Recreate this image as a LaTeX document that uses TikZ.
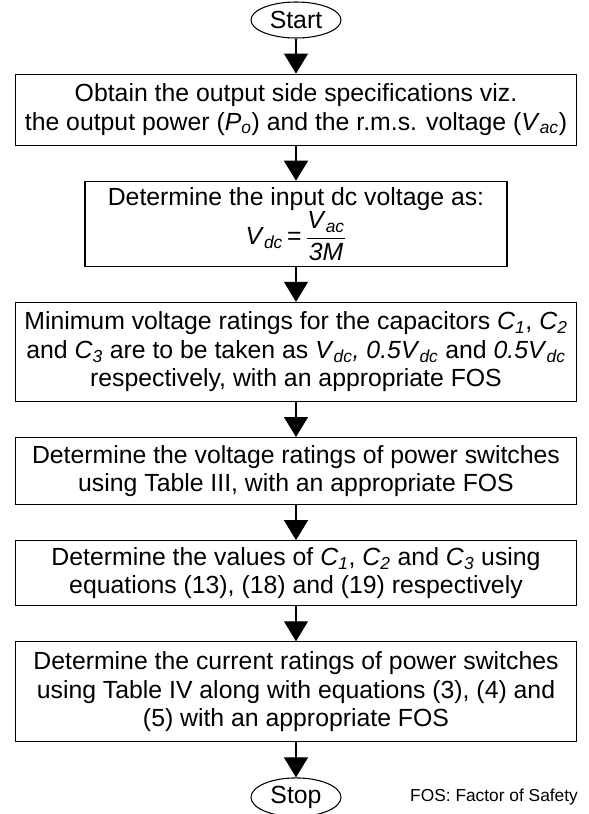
\documentclass[tikz,border=0pt]{standalone}
\usepackage{amsmath}
\usepackage{fontspec}
\setmainfont{Liberation Sans}
\usetikzlibrary{arrows.meta,positioning,shapes.geometric}
\newcommand{\vsym}[2]{\textit{#1}\textsubscript{\textit{#2}}}

\begin{document}
\begin{tikzpicture}[
    node distance=26.3pt,
    font=\fontsize{18.6}{21.4}\selectfont,
    term/.style={draw,ellipse,inner sep=0pt,minimum width=67.5pt,minimum height=27pt,line width=0.8pt},
    box/.style={draw,rectangle,line width=0.8pt,minimum width=420.75pt,align=center,inner sep=2pt},
    arr/.style={-{Triangle[length=15pt,width=18pt]},line width=0.8pt}
  ]
    \useasboundingbox (-222pt,15pt) rectangle (219.75pt,-595.5pt);
    \node[term] (start) {Start};
    \node[box,minimum height=53.25pt,below=of start] (spec) {Obtain the output side specifications viz.\\the output power (\vsym{P}{o}) and the r.m.s. voltage (\vsym{V}{ac})};
    \node[box,minimum width=316.5pt,minimum height=63.75pt,below=of spec] (vdc) {Determine the input dc voltage as:\\\vsym{V}{dc}\,=\,$\dfrac{\text{\vsym{V}{ac}}}{\text{\textit{3M}}}$};
    \node[box,minimum height=74.25pt,below=of vdc] (caps) {Minimum voltage ratings for the capacitors \vsym{C}{1}, \vsym{C}{2}\\and \vsym{C}{3} are to be taken as \vsym{V}{dc}\textit{, 0.5}\vsym{V}{dc} and \textit{0.5}\vsym{V}{dc}\\respectively, with an appropriate FOS};
    \node[box,minimum height=50.25pt,below=of caps] (vsw) {Determine the voltage ratings of power switches\\using Table III, with an appropriate FOS};
    \node[box,minimum height=48.75pt,below=of vsw] (cval) {Determine the values of \vsym{C}{1}, \vsym{C}{2} and \vsym{C}{3} using\\equations (13), (18) and (19) respectively};
    \node[box,minimum height=75pt,below=of cval] (isw) {Determine the current ratings of power switches\\using Table IV along with equations (3), (4) and\\(5) with an appropriate FOS};
    \node[term,minimum height=29pt,below=of isw] (stop) {Stop};
    \node[font=\fontsize{13}{15}\selectfont,right=48pt of stop] (fos) {FOS: Factor of Safety};
    \draw[arr] (start)--(spec); \draw[arr] (spec)--(vdc); \draw[arr] (vdc)--(caps);
    \draw[arr] (caps)--(vsw); \draw[arr] (vsw)--(cval); \draw[arr] (cval)--(isw);
    \draw[arr] (isw)--(stop);
\end{tikzpicture}
\end{document}
